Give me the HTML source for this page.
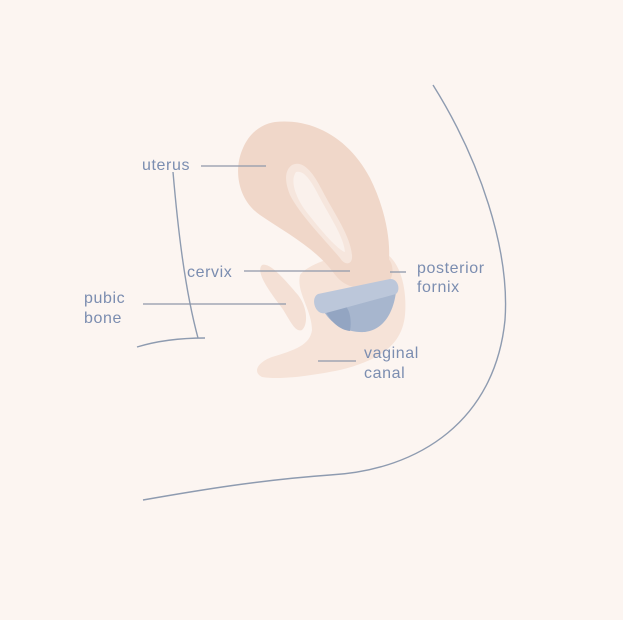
<!DOCTYPE html>
<html><head><style>
html,body{margin:0;padding:0;background:#fcf5f1;}
svg{display:block}
text{font-family:"Liberation Sans",sans-serif;font-size:16px;fill:#7b8db0;letter-spacing:0.6px;}
</style></head><body>
<svg width="623" height="620" viewBox="0 0 623 620" xmlns="http://www.w3.org/2000/svg">
<rect width="623" height="620" fill="#fcf5f1"/>
<path d="M433,85 C480,160 510,250 505,320 C495,420 420,470 330,475 C260,480 200,490 143,500" fill="none" stroke="#8e9bb0" stroke-width="1.4"/>
<path d="M137,347 C160,340 185,338 205,338" fill="none" stroke="#8e9bb0" stroke-width="1.4"/>
<path d="M173,172 C178,230 185,290 198,338" fill="none" stroke="#8e9bb0" stroke-width="1.4"/>
<path d="M300,275 C310,262 340,255 372,250 C395,248 408,280 405,315 C402,345 380,360 340,370 C310,376 280,380 262,377 C252,372 258,362 272,357 C295,350 310,345 312,330 C312,310 296,292 300,275 Z" fill="#f6e3d8"/>
<path d="M262,265 C270,262 285,280 298,295 C308,308 308,325 302,330 C295,333 290,320 282,308 C270,292 255,272 262,265 Z" fill="#f4e0d5"/>
<path d="M275,122 C315,118 350,140 370,178 C386,210 392,245 388,268 C385,284 372,290 360,288 C348,287 340,282 333,272 C315,248 285,232 260,215 C238,200 233,170 243,148 C250,132 262,124 275,122 Z" fill="#f0d7c9"/>
<path d="M372,255 C385,250 395,262 392,275 C390,285 382,288 375,285 Z" fill="#f0d7c9"/>
<path d="M292,165 C302,160 312,170 322,190 C335,215 350,235 352,255 C353,265 345,266 340,258 C325,240 300,215 290,195 C284,180 285,170 292,165 Z" fill="#f6e6dd"/>
<path d="M296,172 C304,170 311,180 320,198 C332,220 344,238 345,252 C338,250 322,232 305,210 C295,196 290,180 296,172 Z" fill="#faf1ec"/>
<path d="M322,308 C330,325 348,333 365,332 C382,330 393,315 396,292 Z" fill="#a7b6ce"/>
<path d="M324,308 C330,322 340,330 350,331 C352,320 350,305 340,303 Z" fill="#93a5c2"/>
<path d="M318,294 L390,279 C398,278 401,290 396,294 L326,313 C315,316 310,298 318,294 Z" fill="#bcc7da"/>
<g stroke="#8e98aa" stroke-width="1.3">
<line x1="201" y1="166" x2="266" y2="166"/>
<line x1="244" y1="271" x2="350" y2="271"/>
<line x1="143" y1="304" x2="286" y2="304"/>
<line x1="390" y1="272" x2="406" y2="272"/>
<line x1="318" y1="361" x2="356" y2="361"/>
</g>
<text x="142" y="170">uterus</text>
<text x="187" y="277">cervix</text>
<text x="84" y="303">pubic</text>
<text x="84" y="323">bone</text>
<text x="417" y="273">posterior</text>
<text x="417" y="292">fornix</text>
<text x="364" y="358">vaginal</text>
<text x="364" y="378">canal</text>
</svg>
</body></html>
